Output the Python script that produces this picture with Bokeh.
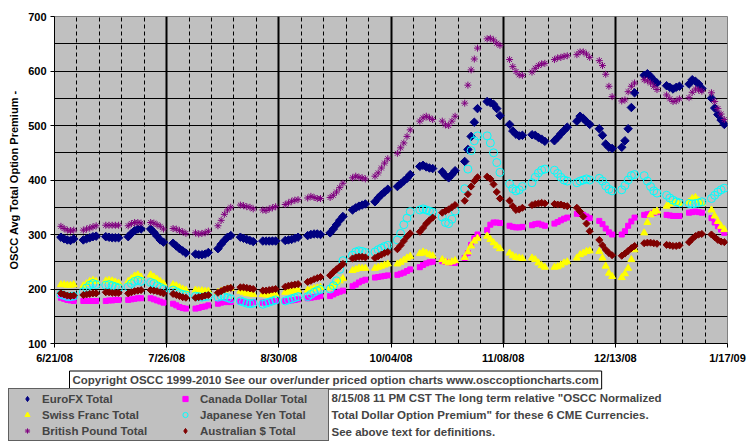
import math
import pandas as pd
from bokeh.plotting import figure
from bokeh.layouts import column
from bokeh.models import Range1d, FixedTicker, Grid, Label, Legend, LegendItem
from bokeh.embed import file_html
from bokeh.resources import INLINE

# ---------------- data ----------------
origin = "2008-06-21"
first_day = "2008-06-23"
last_day = "2009-01-16"
tick_days = [0, 35, 70, 105, 140, 175, 210]
tick_labels = ["6/21/08", "7/26/08", "8/30/08", "10/04/08", "11/08/08", "12/13/08", "1/17/09"]
y_ticks = [100, 200, 300, 400, 500, 600, 700]

eurofx = [295, 292, 290, 289, 292, 290, 292, 294, 296, 297, 296, 295, 294, 294, 294,
          296, 302, 307, 310, 310, 310, 304, 297, 290, 286, 284, 279, 274, 270, 266,
          264, 263, 263, 264, 267, 274, 282, 289, 295, 298, 295, 293, 291, 289, 287,
          288, 288, 288, 288, 288, 289, 290, 291, 293, 295, 298, 300, 301, 301, 300,
          303, 310, 318, 326, 333, 345, 349, 352, 354, 356, 360, 367, 373, 378, 383,
          388, 393, 398, 403, 410, 425, 427, 424, 422, 421, 415, 408, 404, 410, 417,
          434, 456, 480, 506, 531, 544, 542, 539, 531, 518, 502, 490, 484, 481, 482,
          483, 482, 478, 475, 471, 472, 478, 485, 491, 497, 508, 517, 513, 507, 502,
          494, 482, 466, 460, 458, 460, 472, 494, 533, 560, 592, 595, 590, 583, 578,
          573, 570, 567, 570, 572, 576, 584, 581, 576, 568, 550, 532, 520, 510, 502]
canada = [184, 182, 180, 179, 178, 178, 178, 178, 178, 178, 178, 179, 179, 180, 180,
          180, 181, 182, 183, 183, 183, 181, 179, 177, 175, 173, 170, 167, 165, 164,
          164, 165, 167, 168, 170, 173, 175, 176, 176, 176, 177, 176, 175, 175, 176,
          175, 176, 176, 177, 178, 178, 178, 179, 180, 181, 183, 184, 185, 186, 187,
          187, 190, 193, 195, 197, 205, 208, 212, 215, 217, 221, 222, 223, 224, 225,
          226, 228, 230, 233, 236, 240, 244, 247, 249, 250, 251, 250, 249, 248, 248,
          257, 266, 281, 293, 300, 308, 318, 322, 322, 321, 316, 314, 313, 313, 314,
          317, 319, 320, 318, 316, 320, 323, 326, 329, 331, 338, 338, 336, 333, 330,
          325, 319, 311, 304, 300, 300, 306, 316, 324, 331, 336, 337, 338, 340, 341,
          336, 335, 334, 334, 334, 340, 341, 342, 341, 340, 330, 322, 315, 309, 303]
swiss = [208, 208, 207, 207, 208, 206, 210, 214, 216, 214, 215, 216, 215, 213, 211,
         214, 219, 224, 226, 222, 226, 222, 218, 214, 210, 208, 206, 203, 200, 198,
         198, 197, 197, 196, 196, 194, 196, 198, 200, 201, 196, 194, 192, 191, 190,
         190, 189, 189, 189, 190, 194, 195, 196, 197, 198, 198, 199, 201, 202, 203,
         202, 206, 211, 215, 219, 234, 236, 238, 238, 238, 238, 240, 242, 244, 246,
         246, 249, 253, 257, 260, 265, 268, 266, 263, 261, 254, 250, 248, 250, 252,
         258, 268, 279, 288, 293, 297, 291, 285, 279, 274, 266, 261, 258, 257, 256,
         257, 254, 248, 243, 240, 240, 241, 244, 248, 250, 257, 263, 266, 269, 270,
         269, 257, 242, 229, 223, 221, 228, 238, 254, 272, 303, 322, 336, 341, 343,
         352, 356, 358, 358, 357, 360, 366, 368, 362, 357, 345, 334, 324, 315, 309]
yen = [190, 188, 186, 186, 187, 195, 202, 207, 210, 208, 207, 208, 206, 204, 202,
       204, 210, 214, 216, 214, 212, 210, 206, 203, 200, 198, 195, 192, 190, 189,
       187, 186, 185, 186, 187, 185, 187, 186, 184, 182, 178, 176, 174, 173, 174,
       172, 174, 176, 178, 180, 178, 180, 182, 184, 186, 186, 190, 194, 197, 199,
       200, 206, 215, 236, 252, 262, 268, 270, 269, 267, 268, 272, 275, 278, 280,
       290, 302, 318, 330, 342, 345, 347, 345, 343, 341, 332, 322, 320, 328, 343,
       384, 420, 454, 472, 481, 481, 468, 450, 432, 414, 393, 384, 380, 382, 388,
       395, 405, 413, 418, 420, 418, 412, 405, 400, 398, 395, 398, 400, 402, 400,
       403, 398, 389, 383, 380, 382, 390, 400, 408, 410, 408, 398, 388, 380, 376,
       372, 367, 363, 360, 358, 357, 356, 357, 358, 360, 366, 372, 378, 382, 385]
pound = [315, 311, 308, 307, 308, 308, 310, 312, 314, 316, 317, 317, 317, 317, 317,
         316, 320, 322, 322, 321, 322, 321, 318, 315, 310, 311, 310, 307, 305, 302,
         303, 301, 302, 303, 306, 316, 326, 337, 345, 350, 354, 353, 351, 350, 347,
         345, 344, 347, 349, 351, 355, 358, 361, 363, 364, 367, 370, 368, 366, 366,
         368, 372, 378, 386, 394, 404, 407, 405, 404, 402, 407, 413, 422, 431, 439,
         449, 459, 468, 480, 492, 508, 514, 517, 514, 511, 508, 501, 500, 508, 517,
         541, 574, 602, 622, 642, 659, 660, 657, 651, 647, 621, 608, 599, 593, 592,
         598, 605, 610, 613, 614, 621, 624, 625, 627, 628, 630, 635, 635, 631, 625,
         619, 610, 594, 572, 553, 545, 547, 562, 572, 578, 584, 582, 578, 572, 566,
         556, 549, 544, 545, 549, 551, 561, 567, 565, 563, 560, 544, 531, 521, 511]
aussie = [192, 190, 188, 187, 188, 189, 190, 191, 192, 192, 194, 194, 193, 193, 193,
          192, 194, 196, 197, 198, 198, 197, 196, 194, 192, 191, 189, 187, 185, 184,
          184, 185, 186, 188, 189, 193, 196, 199, 201, 202, 203, 203, 202, 201, 200,
          197, 197, 198, 199, 200, 204, 206, 207, 208, 209, 213, 215, 218, 220, 222,
          225, 231, 236, 241, 246, 256, 258, 259, 259, 258, 257, 260, 263, 266, 268,
          273, 280, 288, 296, 302, 305, 312, 320, 326, 331, 340, 343, 346, 350, 354,
          362, 374, 388, 398, 405, 406, 402, 392, 378, 366, 362, 352, 345, 346, 349,
          354, 356, 357, 358, 357, 356, 355, 355, 353, 352, 349, 342, 333, 320, 306,
          290, 280, 272, 266, 262, 261, 265, 270, 275, 279, 284, 285, 285, 284, 283,
          281, 280, 279, 279, 280, 286, 292, 297, 300, 301, 300, 295, 290, 287, 286]

series_names = ["EuroFX Total", "Canada Dollar Total", "Swiss Franc Total",
                "Japanese Yen Total", "British Pound Total", "Australian $ Total"]

dates = pd.bdate_range(first_day, last_day)
xs = list((dates - pd.Timestamp(origin)).days)

FONT = "Liberation Sans"
W = 755
H_TOP = 368
H_BOT = 78

# marker styles: (marker, size, fill, line, line_width, angle)
styles = [
    ("square", 6, "#000080", "#000080", 1, math.pi / 4),
    ("square", 5, "#FF00FF", "#FF00FF", 1, 0),
    ("triangle", 7, "#FFFF00", "#FFFF00", 1, 0),
    ("circle", 8, None, "#00FFFF", 1, 0),
    ("asterisk", 7, None, "#800080", 1, 0),
    ("square", 5, "#800000", "#800000", 1, math.pi / 4),
]
# legend swatch styles (legend ignores the angle, so use diamonds there)
swatches = [
    ("diamond", "#000080", "#000080", 1),
    ("square", "#FF00FF", "#FF00FF", 1),
    ("triangle", "#FFFF00", "#FFFF00", 1),
    ("circle", None, "#00FFFF", 1),
    ("asterisk", None, "#800080", 1),
    ("diamond", "#800000", "#800000", 1),
]
values = [eurofx, canada, swiss, yen, pound, aussie]

p = figure(width=W, height=H_TOP, output_backend="svg", toolbar_location=None,
           x_range=Range1d(0, 210), y_range=Range1d(100, 700),
           min_border_left=54, min_border_right=28, min_border_top=16, min_border_bottom=25)
p.background_fill_color = "#C0C0C0"
p.border_fill_color = "white"
p.outline_line_color = "#808080"

p.xaxis.ticker = FixedTicker(ticks=tick_days, minor_ticks=[])
p.xaxis.major_label_overrides = {d: l for d, l in zip(tick_days, tick_labels)}
p.yaxis.ticker = FixedTicker(ticks=y_ticks, minor_ticks=[])
for ax in (p.xaxis[0], p.yaxis[0]):
    ax.major_tick_out = 4
    ax.major_tick_in = 0
    ax.minor_tick_out = 0
    ax.minor_tick_in = 0
    ax.axis_line_color = "black"
    ax.major_tick_line_color = "black"
    ax.major_label_text_font = FONT
    ax.major_label_text_font_style = "bold"
    ax.major_label_text_font_size = "11px"
    ax.major_label_text_color = "black"
    ax.major_label_standoff = 4
p.yaxis.axis_label = "OSCC Avg Total Option Premium -"
p.yaxis.axis_label_text_font = FONT
p.yaxis.axis_label_text_font_style = "bold"
p.yaxis.axis_label_text_font_size = "11px"
p.yaxis.axis_label_text_color = "black"
p.yaxis.axis_label_standoff = 5

p.ygrid.ticker = FixedTicker(ticks=list(range(150, 700, 50)))
p.ygrid.grid_line_color = "black"
p.ygrid.grid_line_width = 1
p.xgrid.ticker = FixedTicker(ticks=[d for d in range(7, 210, 7) if d % 35 != 0])
p.xgrid.grid_line_color = "black"
p.xgrid.grid_line_dash = "4 3"
p.xgrid.grid_line_width = 1
p.add_layout(Grid(dimension=0, ticker=FixedTicker(ticks=tick_days[1:-1]),
                  grid_line_color="black", grid_line_width=2))

for vals, (mk, sz, fc, lc, lw, ang) in zip(values, styles):
    p.scatter(xs, vals, marker=mk, size=sz, fill_color=fc, line_color=lc,
              line_width=lw, angle=ang)

# ---------- lower panel: copyright, legend, notes ----------
q = figure(width=W, height=H_BOT, output_backend="svg", toolbar_location=None,
           x_axis_type=None, y_axis_type=None,
           x_range=Range1d(0, W), y_range=Range1d(0, H_BOT),
           min_border_left=0, min_border_right=0, min_border_top=0, min_border_bottom=0)
q.grid.visible = False
q.outline_line_color = None
q.background_fill_color = "white"
for fig in (p, q):
    try:
        fig.frame_align = False
    except Exception:
        pass

legend_items = {}
for name, (mk, fc, lc, lw) in zip(series_names, swatches):
    # legend swatch only: a single NaN point draws nothing in the panel
    r = q.scatter([float("nan")], [float("nan")], marker=mk, size=6, fill_color=fc,
                  line_color=lc, line_width=lw)
    legend_items[name] = LegendItem(label=name, renderers=[r])

# legend fills column-first: left column = series 1, 3, 5; right column = 2, 4, 6
order = [0, 2, 4, 1, 3, 5]
legend = Legend(items=[legend_items[series_names[i]] for i in order], ncols=2, location=(8, 5))
legend.background_fill_color = "#C0C0C0"
legend.background_fill_alpha = 1
legend.border_line_color = "black"
legend.border_line_width = 1
legend.padding = 3
legend.margin = 0
legend.spacing = 3
legend.glyph_width = 30
legend.glyph_height = 13
legend.label_height = 13
legend.label_width = 125
legend.label_standoff = 0
legend.label_text_font = FONT
legend.label_text_font_style = "bold"
legend.label_text_font_size = "11.5px"
q.add_layout(legend)

copyright_text = "Copyright OSCC 1999-2010 See our over/under priced option charts www.osccoptioncharts.com"
q.add_layout(Label(x=69, y=H_BOT - 11.5, x_units="screen", y_units="screen", text=copyright_text,
                   text_font=FONT, text_font_style="bold", text_font_size="11.5px",
                   text_baseline="middle", text_align="left",
                   border_line_color="black", background_fill_color="white", padding=3))

notes = ["8/15/08 11 PM CST The long term relative \"OSCC Normalized",
         "Total Dollar Option Premium\" for these 6 CME Currencies.",
         "See above text for definitions."]
for i, line in enumerate(notes):
    q.add_layout(Label(x=331, y=H_BOT - 29 - 17 * i, x_units="screen", y_units="screen", text=line,
                       text_font=FONT, text_font_style="bold", text_font_size="11.5px",
                       text_baseline="middle", text_align="left"))

layout = column(p, q, spacing=0)
open("out.html", "w").write(file_html(layout, INLINE))
